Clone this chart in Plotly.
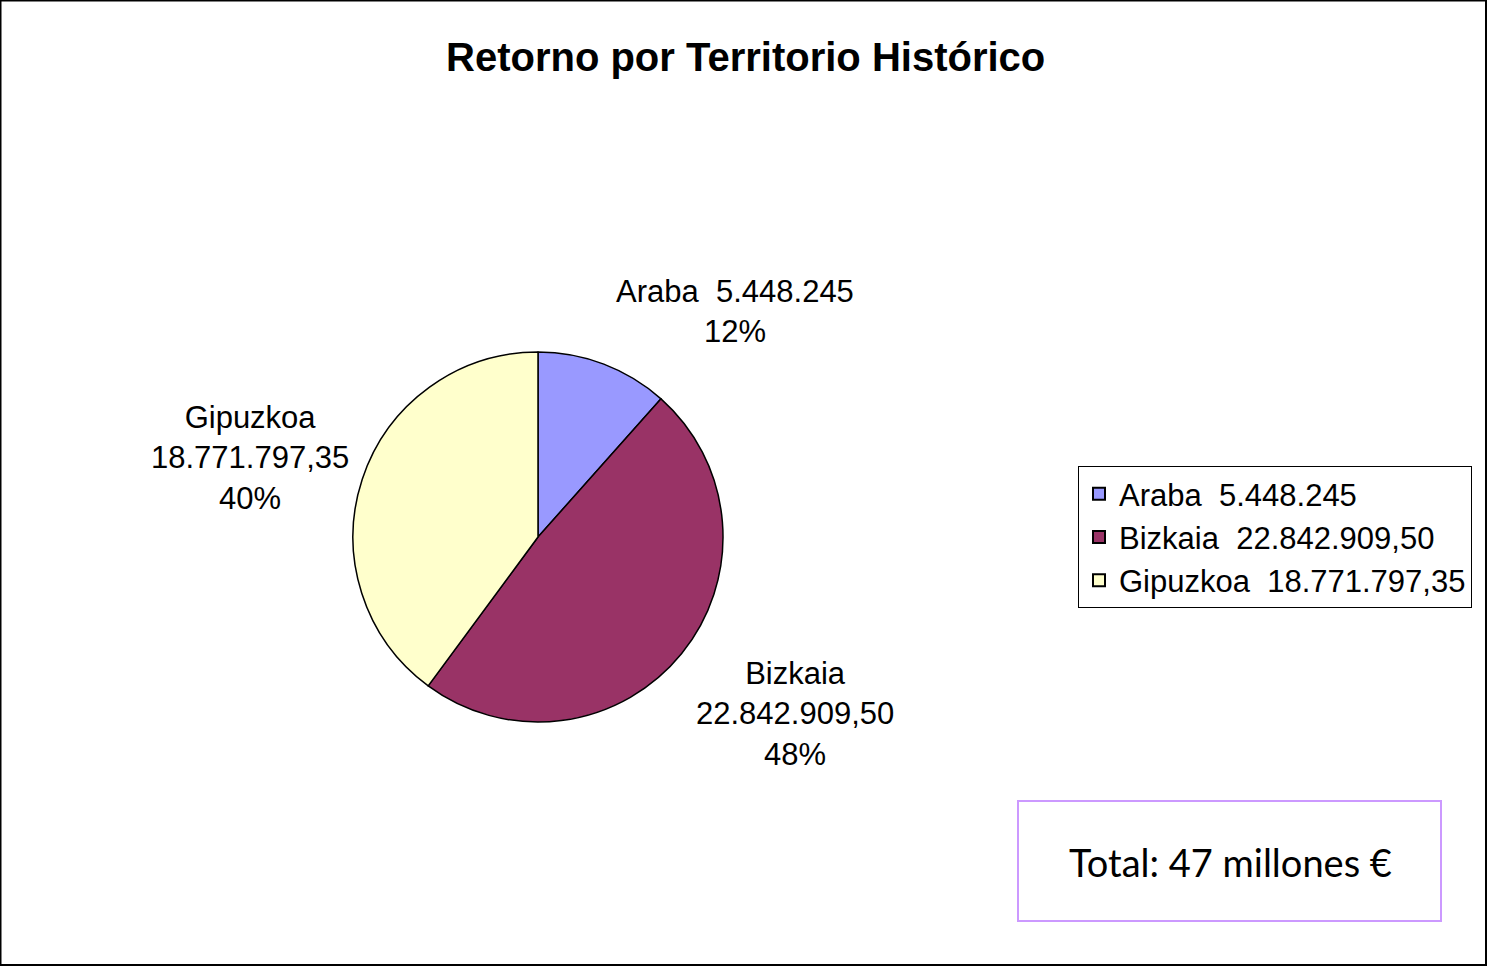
import plotly.graph_objects as go

territories = ["Araba", "Bizkaia", "Gipuzkoa"]
values = [5448245.00, 22842909.50, 18771797.35]
value_labels = ["5.448.245", "22.842.909,50", "18.771.797,35"]
pct_labels = ["12%", "48%", "40%"]
colors = ["#9999FF", "#993366", "#FFFFCC"]
title_text = "Retorno por Territorio Histórico"
total_text = "Total: 47 millones €"

W, H = 1487, 966
NB = "\u00a0"
legend_names = [f"{t}{NB}{NB}{v}" for t, v in zip(territories, value_labels)]

FONT = "Liberation Sans, Arial, Helvetica, sans-serif"

# pie geometry (pixels)
cx, cy, r = 538, 537, 185

fig = go.Figure()
fig.add_trace(go.Pie(
    labels=legend_names,
    values=values,
    sort=False,
    direction="clockwise",
    rotation=0,
    marker=dict(colors=colors, line=dict(color="black", width=1.5)),
    textinfo="none",
    hoverinfo="label+percent",
    domain=dict(x=[(cx - r) / W, (cx + r) / W], y=[(H - cy - r) / H, (H - cy + r) / H]),
))

# label annotations (text from data)
label_texts = [
    f"{territories[0]}{NB}{NB}{value_labels[0]}<br>{pct_labels[0]}",
    f"{territories[1]}<br>{value_labels[1]}<br>{pct_labels[1]}",
    f"{territories[2]}<br>{value_labels[2]}<br>{pct_labels[2]}",
]
label_pos = [(735, 312), (795, 714), (250, 458)]
annotations = []
for txt, (px, py) in zip(label_texts, label_pos):
    annotations.append(dict(
        x=px / W, y=1 - py / H, xref="paper", yref="paper",
        text=txt, showarrow=False, xanchor="center", yanchor="middle",
        font=dict(family=FONT, size=31, color="black"), align="center",
    ))

annotations.append(dict(
    x=1230 / W, y=1 - 862 / H, xref="paper", yref="paper",
    text=total_text, showarrow=False, xanchor="center", yanchor="middle",
    font=dict(family="Lato, Liberation Sans, sans-serif", size=38, color="black"),
))
annotations.append(dict(
    x=745 / W, y=1 - 57 / H, xref="paper", yref="paper",
    text=f"<b>{title_text}</b>", showarrow=False, xanchor="center", yanchor="middle",
    font=dict(family=FONT, size=40, color="black"),
))

shapes = [
    dict(type="rect", xref="paper", yref="paper", x0=1018 / W, x1=1441 / W,
         y0=1 - 921 / H, y1=1 - 801 / H, line=dict(color="#CC99FF", width=2),
         fillcolor="white"),
    dict(type="rect", xref="paper", yref="paper", x0=0.5 / W, x1=1 - 1 / W,
         y0=1 / H, y1=1 - 0.5 / H, line=dict(color="black", width=2)),
]

fig.update_layout(
    width=W, height=H,
    margin=dict(l=0, r=0, t=0, b=0),
    paper_bgcolor="white", plot_bgcolor="white",
    showlegend=True,
    legend=dict(
        x=1078 / W, y=1 - 466 / H, xanchor="left", yanchor="top",
        bgcolor="white", bordercolor="black", borderwidth=1,
        font=dict(family=FONT, size=31, color="black"),
        traceorder="normal", itemsizing="constant",
    ),
    annotations=annotations,
    shapes=shapes,
)

fig.write_html("out.html", config={"displayModeBar": False},
               post_script="document.body.style.margin='0px';")
